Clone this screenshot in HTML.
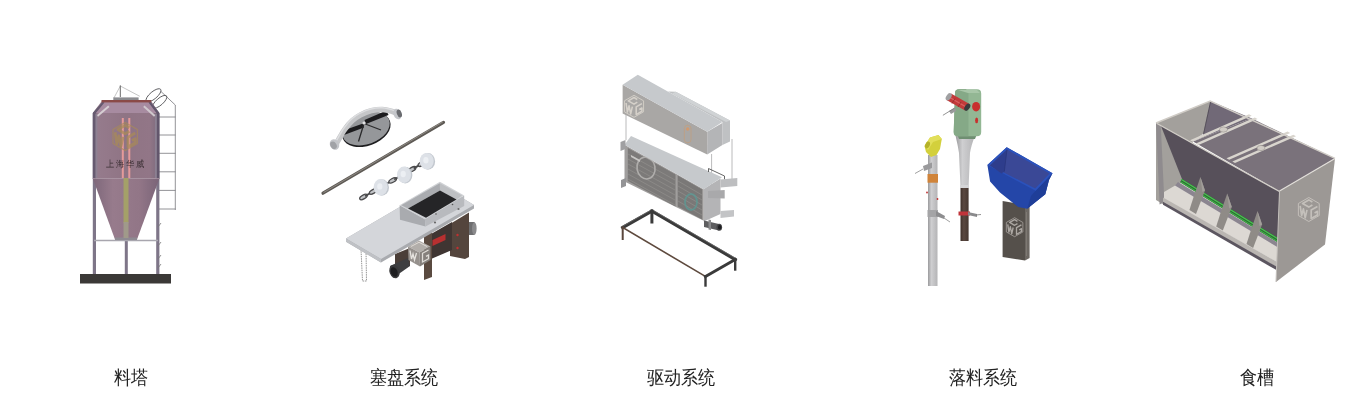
<!DOCTYPE html>
<html><head><meta charset="utf-8">
<style>
html,body{margin:0;padding:0;background:#fff;width:1360px;height:415px;overflow:hidden}
body{position:relative;font-family:"Liberation Sans",sans-serif;color:#222}
.lbl{position:absolute;top:366px;width:200px;margin-left:-100px;text-align:center;font-size:19px;line-height:24px;white-space:nowrap;transform:scale(0.9,1.0);transform-origin:50% 50%}
svg{position:absolute;left:0;top:0}
</style></head><body>
<div class="lbl" style="left:130.85px">料塔</div>
<div class="lbl" style="left:403.5px">塞盘系统</div>
<div class="lbl" style="left:680.65px">驱动系统</div>
<div class="lbl" style="left:983.35px">落料系统</div>
<div class="lbl" style="left:1256.6px">食槽</div>
<svg width="1360" height="415" viewBox="0 0 1360 415" style="position:absolute;left:0;top:0;filter:blur(0.4px)">
<defs>
<g id="wgl" fill="none" stroke="currentColor" stroke-linejoin="round">
<path d="M0 -1 L0.87 -0.5 L0.87 0.5 L0 1 L-0.87 0.5 L-0.87 -0.5Z" stroke-width="0.08"/>
<path d="M0.3 -0.62 L0 -0.8 L-0.52 -0.5 L0 -0.2 L0.3 -0.38"/>
<path d="M-0.72 -0.3 L-0.6 0.52 L-0.45 -0.05 L-0.3 0.69 L-0.15 0.03"/>
<path d="M0.72 -0.25 L0.2 0.05 L0.2 0.75 L0.72 0.45 L0.72 0.15 L0.48 0.29"/>
</g>
</defs>

<defs>
<linearGradient id="sbody" x1="0" x2="1" y1="0" y2="0">
<stop offset="0" stop-color="#685a6c"/><stop offset="0.07" stop-color="#957b8c"/><stop offset="0.2" stop-color="#94798a"/><stop offset="0.5" stop-color="#8f7484"/><stop offset="0.85" stop-color="#927687"/><stop offset="0.95" stop-color="#826e80"/><stop offset="1" stop-color="#64586a"/>
</linearGradient>
<linearGradient id="scone" x1="0" x2="1" y1="0" y2="0">
<stop offset="0" stop-color="#7d677a"/><stop offset="0.3" stop-color="#977b8c"/><stop offset="0.7" stop-color="#927687"/><stop offset="1" stop-color="#7a6478"/>
</linearGradient>
</defs>
<!-- silo -->
<g id="silo">
<!-- ladder -->
<g stroke="#77777c" stroke-width="0.8" fill="none">
<path d="M161 91.5 L175.3 105 L175.3 210"/>
<path d="M159 117H175.5M159 135H175.5M159 153.3H175.5M159 171.8H175.5M159 190.4H175.5M159 209H175.5"/>
</g>
<g stroke="#5a5a5e" stroke-width="0.9" fill="none">
<ellipse cx="153.5" cy="95.3" rx="9.3" ry="3.6" transform="rotate(-40 153.5 95.3)"/>
<ellipse cx="159.7" cy="101.8" rx="9" ry="3.4" transform="rotate(-41 159.7 101.8)"/>
<path d="M120.3 86 L113.9 98 M120.3 86 L139.8 96.3" stroke="#8a8a8a" stroke-width="0.5"/>
</g>
<line x1="120.3" y1="85.4" x2="120.3" y2="97" stroke="#6a6a6a" stroke-width="1"/>
<rect x="113.3" y="97.4" width="25.3" height="2.8" fill="#8c8c90"/>
<!-- legs -->
<rect x="92.8" y="178" width="3.2" height="96" fill="#7e7588"/>
<rect x="124.8" y="236" width="3" height="38" fill="#7e7588"/>
<rect x="156.2" y="178" width="3.2" height="96" fill="#7e7588"/>
<line x1="94" y1="240.5" x2="158" y2="240.5" stroke="#a8a6ae" stroke-width="1.3"/>
<g stroke="#777" stroke-width="0.8"><path d="M158 246l3-4M158 259l3-4M158 268l3-4M158 227l3-4"/></g>
<!-- body -->
<path d="M101.5 101.5 L151.3 101.5 L159.4 113 L159.4 178.5 L92.8 178.5 L92.8 113 Z" fill="url(#sbody)"/>
<path d="M102.5 101.7 L150.5 101.7 L158.3 113 L93.8 113 Z" fill="#a78ba0"/>
<path d="M92.8 113 L102.5 101.7 L104.5 102.5 L95.5 113.5 L95.5 178.5 L92.8 178.5Z" fill="#665a70"/>
<path d="M159.4 113 L150.5 101.7 L148.5 102.5 L156.8 113.5 L156.8 178.5 L159.4 178.5Z" fill="#62566c"/>
<path d="M96.7 115.2 L108.2 105.6 L109.5 107 L98 116.8Z" fill="#d6ced2"/>
<path d="M155.5 115.2 L144.5 105.6 L143.2 107 L154 116.8Z" fill="#d0c8cd"/>
<rect x="95.5" y="114" width="1.8" height="64" fill="#8d8496" opacity="0.8"/>
<rect x="155" y="114" width="1.8" height="64" fill="#8d8496" opacity="0.8"/>
<rect x="101.5" y="100" width="49.8" height="2.4" fill="#8a4a48"/>
<path d="M92.8 178.5 L159.4 178.5 L137 239.5 L115 239.5 Z" fill="url(#scone)"/>
<line x1="92.8" y1="178.5" x2="159.4" y2="178.5" stroke="#a690a0" stroke-width="0.8"/>
<rect x="115" y="237.5" width="22" height="2.5" fill="#8e8a92"/>
<!-- stripes -->
<rect x="121.8" y="118" width="2" height="60" fill="#e59a9a"/>
<rect x="128.3" y="118" width="2" height="60" fill="#e59a9a"/>
<rect x="123.5" y="178" width="5" height="45" fill="#a4a068"/>
<rect x="123.5" y="222" width="5" height="16" fill="#a09a8a"/>
<!-- logo -->
<use href="#wgl" transform="translate(125.2 136.5) scale(14)" style="color:#a88a58" stroke-width="0.2" opacity="0.75"/>
<g fill="#3a2e33" font-size="9" font-family="Liberation Serif,serif">
<text x="105.5" y="166.5" textLength="39" lengthAdjust="spacingAndGlyphs">上 海 华 威</text>
</g>
<!-- base -->
<rect x="80" y="274" width="91" height="9.5" fill="#3b3937"/>
</g>
<g id="p2">
<!-- corner wheel -->
<ellipse cx="366.3" cy="129.6" rx="25.2" ry="16.2" fill="#1e1e20" transform="rotate(-20 366.3 129.6)"/>
<ellipse cx="366" cy="128.5" rx="24.6" ry="15.6" fill="#95979a" transform="rotate(-20 366 128.5)"/>
<path d="M342 131 L363 123.5 L364 127.5 L344 135Z" fill="#1c1c1e"/><path d="M364.5 120 L386.5 110.5 L388.5 115 L366 124Z" fill="#1c1c1e"/>
<path d="M364 123.5 L358.5 141.5 M364 123.5 L381 130" stroke="#2a2a2c" stroke-width="1.3" fill="none"/>
<circle cx="364" cy="123" r="1.6" fill="#e2e2e4"/>
<path d="M336.5 143.5 C336.8 143.0 336.6 142.9 338 140.6 C339.4 138.3 342.3 132.8 344.7 129.5 C347.1 126.2 349.8 123.0 352.4 120.6 C355.0 118.2 357.0 116.8 360.2 115.1 C363.4 113.4 367.6 111.6 371.3 110.7 C375.0 109.8 379.1 109.4 382.4 109.5 C385.7 109.6 388.8 110.5 391.2 111.2 C393.6 111.9 395.9 113.0 396.8 113.4" stroke="#c6c7c9" stroke-width="5.5" fill="none"/>
<path d="M335.9 141.7 C336.1 141.2 336.0 141.1 337.4 138.79999999999998 C338.8 136.5 341.7 131.0 344.09999999999997 127.7 C346.5 124.4 349.2 121.2 351.79999999999995 118.8 C354.4 116.4 356.4 114.9 359.59999999999997 113.3 C362.8 111.7 367.0 109.8 370.7 108.9 C374.4 108.0 378.5 107.6 381.79999999999995 107.7 C385.1 107.8 388.2 108.8 390.59999999999997 109.4 C393.0 110.1 395.3 111.2 396.2 111.60000000000001" stroke="#dddee0" stroke-width="1.5" fill="none"/>
<ellipse cx="334.5" cy="144.5" rx="4.5" ry="5.5" fill="#c4c6ca" transform="rotate(-30 334.5 144.5)"/>
<ellipse cx="333.5" cy="145.3" rx="3" ry="4" fill="#a0a2a6" transform="rotate(-30 333.5 145.3)"/>
<ellipse cx="397.5" cy="114" rx="4" ry="5.5" fill="#c4c6ca" transform="rotate(-20 397.5 114)"/>
<ellipse cx="399.3" cy="113.5" rx="2.4" ry="4" fill="#6a6c70" transform="rotate(-20 399.3 113.5)"/>
<!-- rod -->
<line x1="323" y1="193.2" x2="443.5" y2="122.4" stroke="#5e5a55" stroke-width="3.2" stroke-linecap="round"/>
<line x1="323.5" y1="192.6" x2="443" y2="121.8" stroke="#9a958f" stroke-width="0.8"/>
<!-- chain -->
<g stroke="#4a4a4c" stroke-width="1.3" fill="#c2c4c7"><ellipse cx="363.5" cy="197.0" rx="4.2" ry="1.9" transform="rotate(-29.7 363.5 197.0)"/><line x1="365.1" y1="196.1" x2="371.7" y2="192.3" stroke-width="1.8"/><ellipse cx="373.2" cy="191.5" rx="4.2" ry="1.9" transform="rotate(-29.7 373.2 191.5)"/><line x1="374.8" y1="190.6" x2="381.4" y2="186.8" stroke-width="1.8"/><ellipse cx="383.0" cy="185.9" rx="4.2" ry="1.9" transform="rotate(-29.7 383.0 185.9)"/><line x1="384.5" y1="185.0" x2="391.1" y2="181.2" stroke-width="1.8"/><ellipse cx="392.7" cy="180.4" rx="4.2" ry="1.9" transform="rotate(-29.7 392.7 180.4)"/><line x1="394.2" y1="179.5" x2="400.9" y2="175.7" stroke-width="1.8"/><ellipse cx="402.4" cy="174.8" rx="4.2" ry="1.9" transform="rotate(-29.7 402.4 174.8)"/><line x1="404.0" y1="173.9" x2="410.6" y2="170.1" stroke-width="1.8"/><ellipse cx="412.1" cy="169.3" rx="4.2" ry="1.9" transform="rotate(-29.7 412.1 169.3)"/><line x1="413.7" y1="168.4" x2="420.3" y2="164.6" stroke-width="1.8"/><ellipse cx="421.9" cy="163.7" rx="4.2" ry="1.9" transform="rotate(-29.7 421.9 163.7)"/><line x1="423.4" y1="162.8" x2="430.0" y2="159.0" stroke-width="1.8"/></g>
<ellipse cx="385.1" cy="185.7" rx="2" ry="2.6" fill="#b8bcc3"/><ellipse cx="381.8" cy="187.5" rx="7.2" ry="8.3" fill="#c3c8cf"/><ellipse cx="380.6" cy="187.2" rx="7" ry="8.2" fill="#dde1e7"/><ellipse cx="379.8" cy="186.4" rx="2.6" ry="3.2" fill="#eceff3"/>
<ellipse cx="408.5" cy="173.3" rx="2" ry="2.6" fill="#b8bcc3"/><ellipse cx="405.2" cy="175.1" rx="7.2" ry="8.3" fill="#c3c8cf"/><ellipse cx="404.0" cy="174.8" rx="7" ry="8.2" fill="#dde1e7"/><ellipse cx="403.2" cy="174.0" rx="2.6" ry="3.2" fill="#eceff3"/>
<ellipse cx="431.2" cy="159.6" rx="2" ry="2.6" fill="#b8bcc3"/><ellipse cx="427.9" cy="161.4" rx="7.2" ry="8.3" fill="#c3c8cf"/><ellipse cx="426.7" cy="161.1" rx="7" ry="8.2" fill="#dde1e7"/><ellipse cx="425.9" cy="160.3" rx="2.6" ry="3.2" fill="#eceff3"/>
<!-- hanging chain -->
<path d="M361 249 L362.5 281 L366.5 281 L366 249" stroke="#8a8a8a" stroke-width="0.9" fill="none" stroke-dasharray="1.5 0.8"/>
<!-- gearbox under plate -->
<rect x="466" y="222" width="8.5" height="13" fill="#6e6e70"/>
<ellipse cx="474.3" cy="228.5" rx="2.3" ry="6.3" fill="#8a8a8c"/>
<path d="M450 224 L469 212.5 L469 257 L465 259 L450 256Z" fill="#54453d"/>
<circle cx="457.5" cy="235" r="1.2" fill="#c03030"/>
<circle cx="457.5" cy="248" r="1.2" fill="#c03030"/>
<path d="M431 234 L452 222 L452 250 L431 259Z" fill="#3f3532"/>
<path d="M432.5 240 L445.5 234 L445.5 240 L432.5 246Z" fill="#b83030"/>
<path d="M424 233 L432 230 L432 277 L424 280Z" fill="#5a4a40"/>
<path d="M395 254 L410 248 L410 266 L395 268Z" fill="#4a3e38"/>
<path d="M390 266 L408 258 L410 266 L393 278Z" fill="#3e3e40"/>
<ellipse cx="394.5" cy="271.5" rx="5" ry="6.8" fill="#3a3a3c" transform="rotate(-20 394.5 271.5)"/>
<ellipse cx="394.2" cy="272" rx="3.3" ry="5" fill="#1e1e20" transform="rotate(-20 394.2 272)"/>
<!-- WG box -->
<path d="M408 246.5 L419 240.5 L430.5 246.5 L419.5 252.5Z" fill="#b2aeaa"/>
<path d="M408 246.5 L419.5 252.5 L420 266.5 L408.5 260Z" fill="#96918d"/>
<path d="M419.5 252.5 L430.5 246.5 L430.5 260 L420 266.5Z" fill="#85807c"/>
<path d="M410 250.5 L411.5 259 L413 254 L414.5 260 L416.5 253" stroke="#e6e3df" stroke-width="1.3" fill="none"/>
<path d="M428.5 250 L422.5 253.3 L422.5 262 L428.5 258.7 L428.5 255 L426 256.4" stroke="#e0ddd9" stroke-width="1.3" fill="none"/><path d="M411 246.5 L419 242.3 L427 246.5" stroke="#dedad6" stroke-width="1" fill="none"/>
<!-- plate -->
<path d="M346 238.4 L439 184 L474 205 L474 208.5 L381 262.5 L346 241.8Z" fill="#a9abaf"/>
<path d="M346 238.4 L439 184 L474 205 L381 259Z" fill="#d4d6da"/>
<path d="M346 238.4 L381 259 L381 262.5 L346 241.8Z" fill="#bfc1c5"/>
<!-- hopper box -->
<path d="M399.6 205.2 L424.9 219.2 L425.5 226.5 L400 219.8Z" fill="#a9abaf"/>
<path d="M424.9 219.2 L464.2 195.5 L464.2 206 L425.5 226.5Z" fill="#b8babe"/>
<path d="M399.6 205.2 L439.9 181.8 L464.2 195.5 L424.9 219.2Z" fill="#d0d2d5"/>
<path d="M401.3 205.3 L439.9 183.2 L440 190.5 L408 208.5Z" fill="#aaacb0"/>
<path d="M439.9 183.2 L462 195.6 L456.5 199.5 L440 190.5Z" fill="#bec0c3"/>
<path d="M408 208.5 L440 190.5 L456.5 199.5 L426 217.8Z" fill="#252527"/>
<circle cx="435" cy="222.5" r="1.1" fill="#6a6a6a"/><circle cx="458.5" cy="209" r="1.1" fill="#6a6a6a"/>
<circle cx="436" cy="214" r="0.8" fill="#555"/><circle cx="452.5" cy="204.5" r="0.8" fill="#555"/>
</g>
<g id="p3">
<!-- frame -->
<g stroke-linecap="square" fill="none">
<path d="M622.7 227.5 L651.9 211 L735.2 259.5" stroke="#3a3a3a" stroke-width="3.2"/><path d="M623 226 L651.9 209.6 L735.2 258" stroke="#6a6a6a" stroke-width="0.8"/>
<path d="M651.9 211 L651.9 222" stroke="#3a3a3a" stroke-width="3"/>
<path d="M622.7 227.5 L705.5 276.5" stroke="#5e4a3e" stroke-width="1.6"/>
<path d="M705.5 276.5 L735.2 259.5" stroke="#3a3a3a" stroke-width="3"/>
<path d="M622.7 227.5 L622.7 239" stroke="#5a463c" stroke-width="2"/>
<path d="M705.5 276.5 L705.5 285.5" stroke="#3a3a3a" stroke-width="2.4"/>
<path d="M735.2 259.5 L735.2 269.5" stroke="#3a3a3a" stroke-width="2.4"/>
</g>
<!-- rods -->
<g stroke="#a8a8aa" stroke-width="0.8">
<line x1="626" y1="113" x2="626" y2="140"/>
<line x1="711.6" y1="154" x2="711.6" y2="190"/>
<line x1="732" y1="139" x2="732" y2="183"/>
</g>
<!-- middle unit -->
<path d="M703.7 189 L720.5 178.5 L720.5 214 L703.7 221.5Z" fill="#b4b4b6"/>
<path d="M624.5 144.8 L703.7 189.2 L703.7 220.7 L624.5 181.6Z" fill="#a09e9d"/>
<path d="M627.8 148 L675.5 174.5 L675.5 206.6 L627.8 181Z" fill="#7c7a79"/>
<path d="M677.7 175.5 L702.2 189.5 L702.2 219.4 L677.7 206.6Z" fill="#7a7877"/>
<g stroke="#959391" stroke-width="0.6" fill="none">
<path d="M628 154 L675 180M628 159 L675 185M628 164 L675 190M628 169 L675 195M628 174 L675 200M628 179 L675 205"/>
<path d="M678 181 L702 195M678 186 L702 200M678 191 L702 205M678 196 L702 210M678 201 L702 215"/>
</g>
<ellipse cx="646" cy="168" rx="9" ry="11" fill="none" stroke="#b0aeac" stroke-width="1.6" transform="rotate(-10 646 168)"/>
<ellipse cx="691" cy="202" rx="6" ry="8" fill="none" stroke="#5c9894" stroke-width="1.8" opacity="0.8"/>
<path d="M631 155 L640 160 L640 162 L631 157Z" fill="#c8c6c4"/>
<path d="M624.5 144.8 L631 136 L722 177.3 L703.7 189.2Z" fill="#c6c9cc"/>
<path d="M620.5 142 L625.5 140 L625.5 149 L620.5 151Z" fill="#a0a0a2"/>
<path d="M621 180 L626 178 L626 186 L621 188Z" fill="#949496"/>
<path d="M708.5 172 L708.5 168.5 L724.5 176 L724.5 179.5" stroke="#555" stroke-width="0.9" fill="none"/>
<path d="M720.5 179.5 L737.3 178 L737.3 186 L720.5 187.5Z" fill="#bdbec0"/><path d="M708 191 L724.7 190 L724.7 198.6 L708 198Z" fill="#a9a9ab"/>
<path d="M720.5 211 L734 210 L734 216.5 L720.5 218Z" fill="#c3c4c6"/>
<path d="M704 220.5 L719 224 L719 230.5 L704 227Z" fill="#5e5e60"/><path d="M708.5 219.5 L711 220 L711 230 L708.5 229.5Z" fill="#8a8a8c"/>
<ellipse cx="719.3" cy="227.3" rx="2.8" ry="3.5" fill="#444446"/><ellipse cx="719.6" cy="227.3" rx="1.6" ry="2.3" fill="#1e1e20"/>
<!-- top box -->
<path d="M675.8 91.7 L730 120.5 L730 141.6 L722.4 145 L722.4 122.1 L668 91.6Z" fill="#bfc1c3"/>
<path d="M707.2 131.8 L722.4 123 L722.4 145 L707.2 154.6Z" fill="#b4b5b7"/>
<path d="M622.6 84.8 L707.2 131.8 L707.2 154.6 L622.6 113.4Z" fill="#a9a7a5"/>
<path d="M637.8 74.8 L722.4 122.1 L707.2 131.8 L622.6 84.8Z" fill="#c6c9cc"/>
<path d="M675.8 91.7 L730 120.5 L726 122 L672 93.5Z" fill="#d0d3d5"/>
<!-- WG logo on front -->
<use href="#wgl" transform="translate(634 106.3) scale(11)" style="color:#d6d1ca" stroke-width="0.14"/>
<rect x="684.4" y="125.3" width="6.6" height="17.4" rx="3" fill="none" stroke="#c0a080" stroke-width="0.8"/>
<circle cx="687.7" cy="129" r="1.8" fill="#d09a70"/>
</g>
<g id="p4">
<defs>
<linearGradient id="tubeL" x1="0" x2="1"><stop offset="0" stop-color="#9a9a9c"/><stop offset="0.35" stop-color="#cfcfd1"/><stop offset="1" stop-color="#b4b4b6"/></linearGradient>
<linearGradient id="tubeB" x1="0" x2="1"><stop offset="0" stop-color="#3e302a"/><stop offset="0.4" stop-color="#5a4840"/><stop offset="1" stop-color="#45362f"/></linearGradient>
</defs>
<!-- left tube -->
<rect x="928" y="155" width="9.5" height="131" fill="url(#tubeL)"/>
<rect x="927.5" y="174" width="10.5" height="8.7" fill="#d0843a"/>
<rect x="927.5" y="210" width="10.5" height="7" fill="#a4a4a6"/>
<path d="M936 211 L945 216 L944 219 L936 216Z" fill="#8d8d8f"/>
<line x1="944" y1="218" x2="950" y2="222" stroke="#777" stroke-width="0.7"/>
<path d="M923 166 L932 162.5 L932 168 L924 171Z" fill="#9a9a9c"/>
<line x1="923" y1="169" x2="915" y2="173.5" stroke="#777" stroke-width="0.7"/>
<circle cx="927" cy="192.5" r="0.9" fill="#c03030"/><circle cx="937.5" cy="199" r="0.9" fill="#c03030"/>
<!-- yellow head -->
<path d="M924.5 146 L930 137.5 L938.5 135 L941.8 139 L940 149 L936.5 155 L931 157 L926 152Z" fill="#d3d03c"/>
<path d="M924.5 146 L930 137.5 L938.5 135 L941.8 139 L933 142 L928 150Z" fill="#e2df5a"/>
<ellipse cx="927.5" cy="145" rx="2.2" ry="3.5" fill="#b5b22a" transform="rotate(25 927.5 145)"/>
<!-- middle tube -->
<path d="M955.6 136 L974.9 136 Q971 146 970 153 L968.6 187 L960.5 187 L959 153 Q958 146 955.6 136Z" fill="url(#tubeL)"/>
<rect x="960.5" y="187" width="8.1" height="54" fill="url(#tubeB)"/>
<rect x="960" y="185" width="9" height="3" fill="#d5d5d7"/>
<path d="M958.5 211.5 L970 211.5 L970 215.5 L958.5 215.5Z" fill="#c0343a"/>
<path d="M968 212 L977 214 L977 217 L968 215Z" fill="#8a8a8c"/>
<line x1="976" y1="215" x2="981" y2="214.5" stroke="#777" stroke-width="0.8"/>
<!-- green head -->
<path d="M957 134 L977 134 L975 139 L959 139Z" fill="#6f8f72"/>
<path d="M955 93 Q955 89.3 959 89.3 L977 89.3 Q981.2 89.3 981.2 93.5 L981.2 132 Q981.2 136.3 977 136.3 L958 136.3 Q953.7 136.3 953.7 132Z" fill="#93b794"/>
<path d="M955 93 Q955 89.3 959 89.3 L966 89.3 L968.5 92 L968.5 136.3 L958 136.3 Q953.7 136.3 953.7 132Z" fill="#85a987"/>
<path d="M958 90 L977 90 L980 93 L968 93Z" fill="#a8c6a8"/>
<ellipse cx="976.1" cy="106.7" rx="4" ry="4.8" fill="#c8302e"/>
<ellipse cx="976.6" cy="120.4" rx="1.5" ry="2.8" fill="#c8302e"/>
<path d="M946.5 100 L951 93.5 L969.5 104 L965 110.5Z" fill="#c23a3a"/>
<path d="M949 97 L967 107.5" stroke="#d86060" stroke-width="1.2"/>
<path d="M955 98.5 L952 103.5 M961 102 L958 107" stroke="#8e2a2a" stroke-width="0.8"/>
<ellipse cx="948.7" cy="96.8" rx="2.4" ry="4" fill="#a0a0a2" transform="rotate(35 948.7 96.8)"/>
<ellipse cx="967.3" cy="107.2" rx="2.4" ry="4" fill="#3a3a3c" transform="rotate(35 967.3 107.2)"/>
<path d="M949 111 L955 107.5 L956 111 L951 114Z" fill="#9a9a9c"/>
<line x1="954.5" y1="108.1" x2="942.9" y2="115.3" stroke="#777" stroke-width="0.8"/>
<!-- stand -->
<path d="M1002.6 201 L1025 205 L1025 260.5 L1002.6 257Z" fill="#55504b"/>
<path d="M1025 205 L1029.6 202.5 L1029.6 258 L1025 260.5Z" fill="#6d6863"/>
<use href="#wgl" transform="translate(1014.6 227.2) scale(9.5)" style="color:#aca7a2" stroke-width="0.14"/>
<line x1="1026.5" y1="212" x2="1026.5" y2="256" stroke="#8a847e" stroke-width="0.6"/>
<!-- blue hopper -->
<path d="M987.4 165 L1006.7 147.2 L1052.5 173.3 L1049 180 L1045.3 194.2 L1027.2 208.7 L1018.1 207 L1000 192.4 L990.1 181.6Z" fill="#2446a8"/>
<path d="M1035.6 190.8 L1052.5 173.3 L1049 180 L1045.3 194.2 L1027.2 208.7 L1031 196Z" fill="#1f3e98"/>
<path d="M987.4 165 L1006.7 147.2 L1052.5 173.3 L1035.6 190.8Z" fill="#2b52bc"/>
<path d="M990 165.4 L1007 149.6 L1049.6 173.6 L1035.2 188.4Z" fill="#3a4896"/>
<path d="M990 165.4 L1007 149.6 L1004.3 171.5 L1001.5 173.5Z" fill="#2e3d8c"/>
<path d="M1007 149.6 L1004.3 171.5" stroke="#27347a" stroke-width="0.7"/>
</g>
<g id="p5">
<!-- left end inner face -->
<path d="M1156 123 L1210.2 101 L1204 133 L1193 141.5 L1183 181.6 L1166 194.6 L1166 206 L1156 200Z" fill="#a3a09c"/>
<path d="M1156 123.4 L1160.8 125.8 L1164.4 202 L1159.6 204.5Z" fill="#8f8b8e"/>
<!-- back slope visible -->
<path d="M1210.2 101 L1251.4 118.3 L1193 141.5 L1203.3 134.3Z" fill="#716977"/><path d="M1210.6 101.5 L1203.5 134" stroke="#4e4852" stroke-width="0.8"/>
<!-- floor -->
<path d="M1164 192 L1182 181.6 L1279 241 L1279 263 L1164 199Z" fill="#dcd8d3"/>
<!-- front lip -->
<path d="M1163 197.5 L1279 263 L1279 268.5 L1163 203.3Z" fill="#bab6b2"/>
<path d="M1163 201.8 L1279 268 L1279 271.5 L1163 204.8Z" fill="#5c5660"/>
<path d="M1178 182 L1279 243.5 L1279 248 L1175 185.5Z" fill="#8b8590"/>
<!-- front slope -->
<path d="M1160.8 125.5 L1279.5 191.5 L1279 242 L1183 181.6Z" fill="#57505a"/>
<!-- green strip -->
<path d="M1181 180.6 L1279 240.9" stroke="#2a6e32" stroke-width="4"/><path d="M1181 179.2 L1279 239.5" stroke="#4cc052" stroke-width="1.3"/><path d="M1181 182 L1279 242.3" stroke="#3fae46" stroke-width="1.1"/>

<!-- dividers -->
<path d="M1200.4 177.0 L1205.0 190.5 L1196.0 214.0 L1189.4 210.0 L1193.9 196.0Z" fill="#8f8b87"/><path d="M1200.4 177.0 L1205.0 190.5 L1202.4 192.0Z" fill="#a29e9a"/>
<path d="M1227.2 193.5 L1231.8 207.0 L1222.8 230.5 L1216.2 226.5 L1220.7 212.5Z" fill="#8f8b87"/><path d="M1227.2 193.5 L1231.8 207.0 L1229.2 208.5Z" fill="#a29e9a"/>
<path d="M1257.5 211.0 L1262.1 224.5 L1253.1 248.0 L1246.5 244.0 L1251.0 230.0Z" fill="#8f8b87"/><path d="M1257.5 211.0 L1262.1 224.5 L1259.5 226.0Z" fill="#a29e9a"/>
<!-- lid -->
<path d="M1193 141.5 L1251.4 118.3 L1335 158.4 L1279.5 191.5Z" fill="#7a727b"/>
<!-- rails -->
<path d="M1190.0 140.3 L1249.0 114.2 L1251.7 115.7 L1192.7 141.8Z" fill="#d9d5ce"/><path d="M1195.8 143.5 L1254.8 117.4 L1257.5 118.9 L1198.5 145.0Z" fill="#d9d5ce"/>
<ellipse cx="1223.5" cy="129.5" rx="4" ry="2.6" fill="#d0cbc5" stroke="#8c8682" stroke-width="0.5"/>
<path d="M1226.5 158.3 L1287.5 131.5 L1290.2 133.0 L1229.2 159.8Z" fill="#d9d5ce"/><path d="M1232.3 161.5 L1293.3 134.7 L1296.0 136.2 L1235.0 163.0Z" fill="#d9d5ce"/>
<ellipse cx="1261" cy="148" rx="4" ry="2.6" fill="#d0cbc5" stroke="#8c8682" stroke-width="0.5"/>
<!-- rims -->
<path d="M1156 123 L1210.2 101 L1335 158.4" stroke="#d0ccc6" stroke-width="1.4" fill="none"/>
<path d="M1157 123.5 L1279.5 191.5" stroke="#d2cec8" stroke-width="1.4" fill="none"/>
<!-- right end panel -->
<path d="M1279.5 191 L1335 158.4 L1325 244.4 L1276 282Z" fill="#9c9895"/>
<path d="M1279.5 191 L1335 158.4" stroke="#e2dfda" stroke-width="1.2"/>
<path d="M1279.5 191 L1276 282" stroke="#c4c0bc" stroke-width="1"/>
<use href="#wgl" transform="translate(1308.8 209.5) scale(12)" style="color:#c4c0bb" stroke-width="0.14"/>
</g>
</svg>
</body></html>
